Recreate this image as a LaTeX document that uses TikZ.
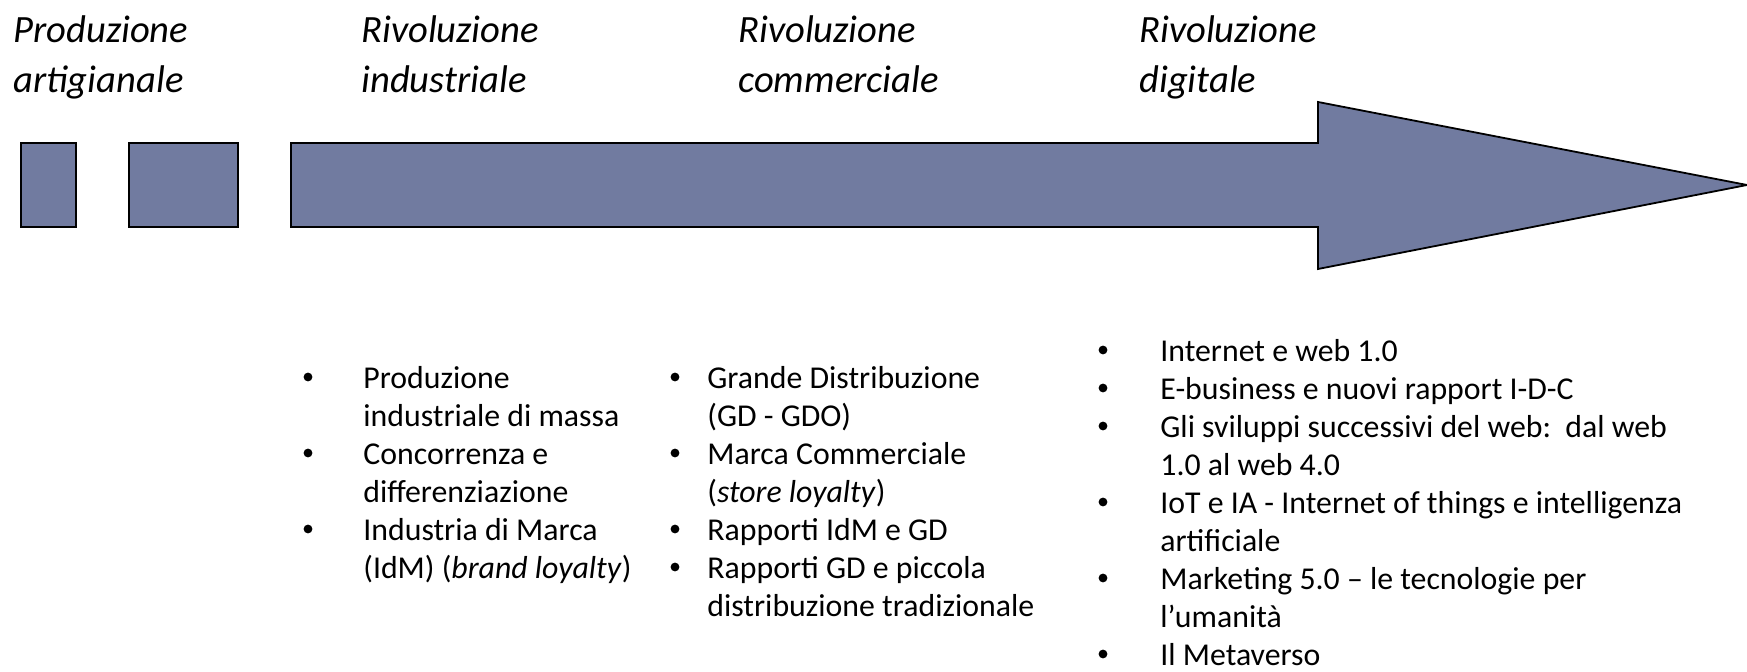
\documentclass[tikz,border=0pt]{standalone}
\usepackage{fontspec}
\setmainfont{Carlito}
\usetikzlibrary{calc}

\definecolor{barfill}{RGB}{113,123,160}
\tikzstyle{bar}=[draw=black, fill=barfill, line width=0.9pt, line join=miter]
\tikzstyle{era}=[anchor=base west, inner sep=0pt, font=\fontsize{19.3}{23}\selectfont\itshape]
\tikzstyle{item}=[anchor=base west, inner sep=0pt, font=\fontsize{15.9}{19}\selectfont]
\tikzstyle{dot}=[circle, fill=black, inner sep=0pt, minimum size=4.4pt]

\begin{document}
\begin{tikzpicture}[x=0.5pt, y=-0.5pt]
    \useasboundingbox (0,0) rectangle (1747,672);

    % the bars and the big arrow
    \draw[bar] (21,143) rectangle (76,227);
    \draw[bar] (129,143) rectangle (238,227);
    \coordinate (tip) at (1747,185);
    \draw[bar] (291,143) -- (1318,143) -- (1318,102) -- (tip) -- (1318,269)
        -- (1318,227) -- (291,227) -- cycle;

    % the four eras
    \foreach \x/\first/\second [count=\i] in {13/Produzione/artigianale, 361/Rivoluzione/industriale,
            738/Rivoluzione/commerciale, 1139/Rivoluzione/digitale}
    {
        \node[era] (era\i a) at (\x,43) {\first};
        \node[era] (era\i b) at (\x,93) {\second};
    }

    % industrial column
    \foreach \y [count=\i] in {389,465,541}
        \node[dot] (dotind\i) at (308,\y-12) {};
    \foreach \y/\txt [count=\i] in {389/Produzione, 427/industriale di massa, 465/Concorrenza e,
            503/differenziazione, 541/Industria di Marca, 579/{(IdM) (\textit{brand loyalty})}}
        \node[item] (ind\i) at (363,\y) {\txt};

    % commercial column
    \foreach \y [count=\i] in {389,465,541,579}
        \node[dot] (dotcom\i) at (675,\y-12) {};
    \foreach \y/\txt [count=\i] in {389/Grande Distribuzione, 427/(GD - GDO), 465/Marca Commerciale,
            503/{(\textit{store loyalty})}, 541/Rapporti IdM e GD, 579/Rapporti GD e piccola,
            617/distribuzione tradizionale}
        \node[item] (com\i) at (707,\y) {\txt};

    % digital column
    \foreach \y [count=\i] in {362,400,438,514,590,666}
        \node[dot] (dotdig\i) at (1103,\y-12) {};
    \foreach \y/\txt [count=\i] in {362/Internet e web 1.0, 400/E-business e nuovi rapport I-D-C,
            438/{Gli sviluppi successivi del web:\ \ dal web}, 476/1.0 al web 4.0,
            514/IoT e IA - Internet of things e intelligenza, 552/artificiale,
            590/Marketing 5.0 – le tecnologie per, 628/l’umanità, 666/Il Metaverso}
        \node[item] (dig\i) at (1160,\y) {\txt};

\end{tikzpicture}
\end{document}
